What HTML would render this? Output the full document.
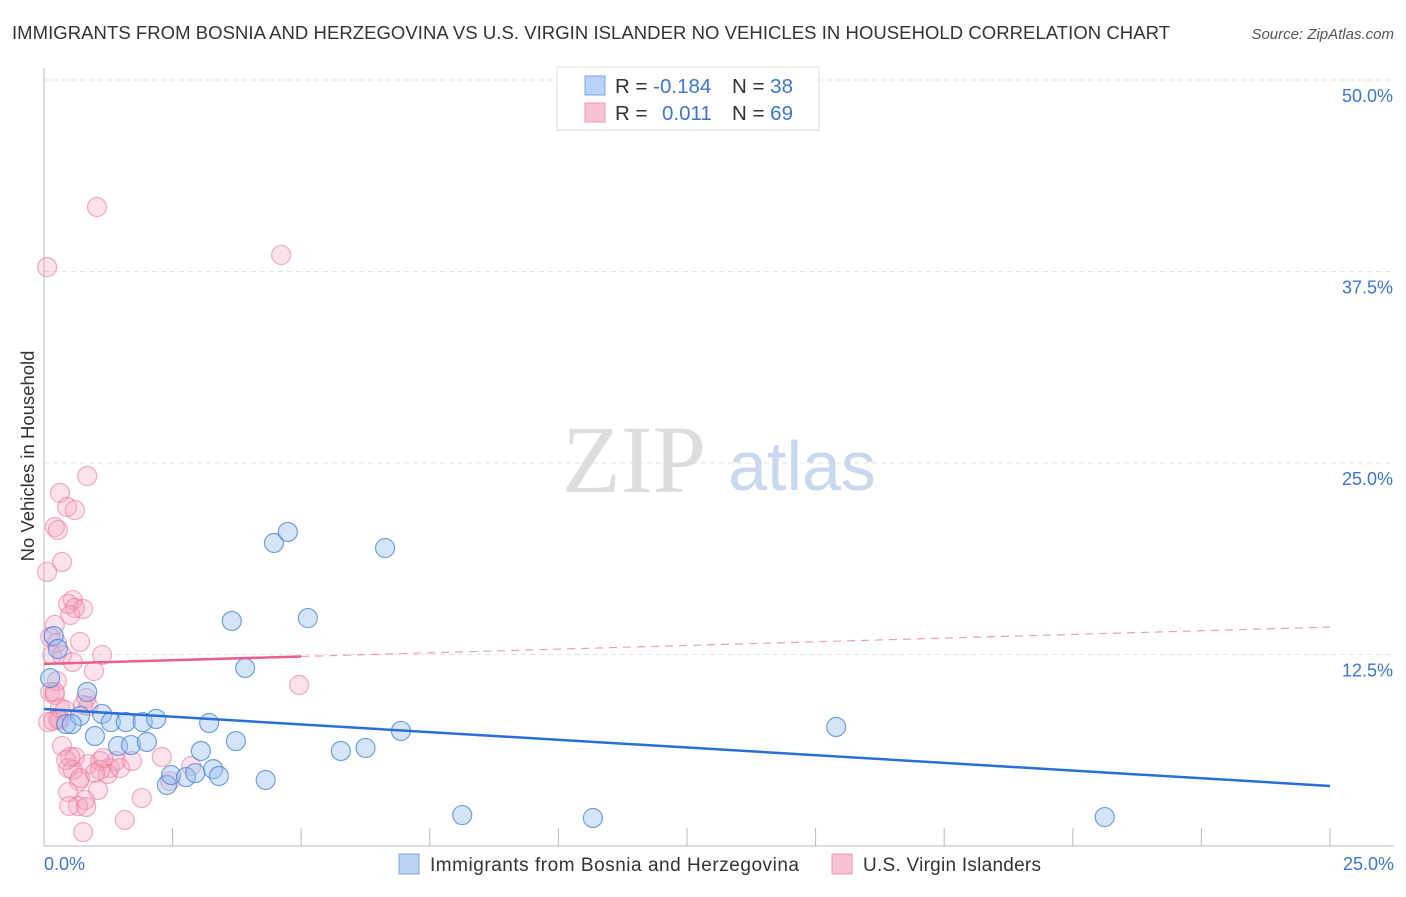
<!DOCTYPE html>
<html><head><meta charset="utf-8"><style>
body{margin:0;background:#fff;font-family:"Liberation Sans",sans-serif;}
svg text{font-family:"Liberation Sans",sans-serif;}
</style></head><body>
<svg id="chart" width="1406" height="892">
<text x="12" y="39" font-size="18.5" fill="#333" textLength="1158">IMMIGRANTS FROM BOSNIA AND HERZEGOVINA VS U.S. VIRGIN ISLANDER NO VEHICLES IN HOUSEHOLD CORRELATION CHART</text>
<text x="1394" y="39" font-size="15" fill="#555" text-anchor="end" font-style="italic">Source: ZipAtlas.com</text>
<g id="grid"></g>
<text x="634" y="492" font-size="96" fill="#ddd" font-family="Liberation Serif" text-anchor="middle" style="font-family:'Liberation Serif',serif">ZIP</text>
<text x="802" y="490" font-size="70" fill="#c8d8ee" text-anchor="middle">atlas</text>
<text transform="translate(34,456) rotate(-90)" font-size="18.5" fill="#333" text-anchor="middle">No Vehicles in Household</text>
<g id="marks"></g>
<g>
<rect x="557" y="67" width="262" height="63" fill="#fff" stroke="#ddd"/>
<rect x="585" y="76" width="20" height="19" fill="#b9d2f5" stroke="#7aa6e6"/>
<rect x="585" y="103" width="20" height="19" fill="#f9c2d2" stroke="#ee95b0"/>
<text x="615" y="93" font-size="20.5" fill="#333">R = <tspan fill="#3b76d6">-0.184</tspan></text>
<text x="732" y="93" font-size="20.5" fill="#333">N = <tspan fill="#3b76d6">38</tspan></text>
<text x="615" y="120" font-size="20.5" fill="#333">R = <tspan fill="#3b76d6" x="662">0.011</tspan></text>
<text x="732" y="120" font-size="20.5" fill="#333">N = <tspan fill="#3b76d6">69</tspan></text>
</g>
<g>
<rect x="399" y="854" width="20" height="20" fill="#b9d2f5" stroke="#7aa6e6"/>
<text x="430" y="871" font-size="19" fill="#333" textLength="369">Immigrants from Bosnia and Herzegovina</text>
<rect x="832" y="854" width="20" height="20" fill="#f9c2d2" stroke="#ee95b0"/>
<text x="863" y="871" font-size="19" fill="#333" textLength="178">U.S. Virgin Islanders</text>
</g>
</svg>
<script>
const yTicks=[12.5,25,37.5,50];
const yTickLabels=["12.5%","25.0%","37.5%","50.0%"];
const xTickLabels=["0.0%","25.0%"];
const blueX=[4.47,4.74,6.63,3.65,5.13,3.91,0.84,0.43,0.7,1.13,0.54,1.3,1.59,1.92,2.18,3.21,0.99,1.44,1.69,2.0,3.73,3.05,5.77,6.25,6.94,15.4,2.39,2.47,2.76,2.94,3.29,3.4,4.31,8.13,10.67,20.62,0.19,0.27,0.12];
const blueY=[19.78,20.5,19.45,14.69,14.88,11.62,10.05,7.96,8.49,8.62,7.96,8.09,8.09,8.09,8.29,8.03,7.18,6.53,6.59,6.79,6.85,6.2,6.2,6.4,7.51,7.77,3.98,4.63,4.5,4.76,5.02,4.57,4.31,2.02,1.83,1.89,13.71,12.86,10.96];
const pinkX=[0.06,1.03,4.61,0.84,0.31,0.45,0.6,0.21,0.27,0.35,0.06,0.56,0.47,0.6,0.51,0.76,0.21,0.12,0.25,0.7,0.16,0.35,0.97,1.13,0.25,0.12,0.21,0.82,0.86,0.76,0.31,0.27,0.08,0.18,0.35,0.6,0.47,0.68,0.86,1.09,1.28,1.4,1.24,1.48,1.09,0.99,1.71,2.29,2.86,2.45,0.56,0.47,0.8,0.66,1.05,0.49,0.82,1.9,1.57,0.76,4.96,0.56,0.31,0.41,0.21,0.51,0.7,1.15,0.43];
const pinkY=[37.79,41.71,38.58,24.15,23.04,22.13,21.93,20.82,20.63,18.54,17.89,16.06,15.8,15.54,15.08,15.47,14.43,13.64,13.25,13.32,12.47,12.47,11.42,12.47,10.77,10.05,9.86,9.66,9.14,9.2,9.01,8.29,8.09,8.16,6.53,5.81,5.09,4.24,5.35,5.55,5.09,5.55,4.7,5.09,4.96,4.77,5.55,5.81,5.22,4.24,4.96,3.52,3.0,2.61,3.66,2.61,2.55,3.13,1.7,0.91,10.51,12.01,8.22,8.88,10.05,5.81,4.44,5.74,5.61];
const blueTrend=[8.94,3.92];
const pinkTrend=[11.89,14.29];
const pinkSolidEnd=5.0;
const X0=44,X1=1330,Y0=846,PPX=(X1-X0)/25,PPY=15.32;
const sx=v=>X0+v*PPX, sy=v=>Y0-v*PPY;
const NS="http://www.w3.org/2000/svg";
function mk(t,a,p){const e=document.createElementNS(NS,t);for(const k in a)e.setAttribute(k,a[k]);p.appendChild(e);return e;}
const g=document.getElementById('grid'),m=document.getElementById('marks');
yTicks.forEach((v,i)=>{
 const l=mk('line',{x1:X0,x2:1394,y1:sy(v),y2:sy(v),stroke:'#e2e2e2','stroke-dasharray':'5,4'},g);
 
 
 const t=mk('text',{x:1393,y:sy(v)+22,'font-size':18,fill:'#3b76d6','text-anchor':'end'},g);t.textContent=yTickLabels[i];
 
 
});
const ax=mk('line',{x1:X0,x2:X0,y1:68,y2:Y0,stroke:'#bbb'},g);


const bx=mk('line',{x1:X0,x2:1394,y1:Y0,y2:Y0,stroke:'#bbb'},g);


for(let i=1;i<=10;i++){const x=X0+i*(X1-X0)/10;const t=mk('line',{x1:x,x2:x,y1:Y0-18,y2:Y0,stroke:'#bbb'},g);
 
 }
[[0,44,'start'],[1,1394,'end']].forEach(([i,x,a])=>{const t=mk('text',{x:x,y:870,'font-size':18,fill:'#3b76d6','text-anchor':a},g);t.textContent=xTickLabels[i];
 
 });
pinkX.forEach((x,i)=>{const c=mk('circle',{cx:sx(x),cy:sy(pinkY[i]),r:9.5,fill:'rgba(246,160,188,0.3)',stroke:'rgba(234,120,157,0.6)','stroke-width':1.2},m);
 
 });
blueX.forEach((x,i)=>{const c=mk('circle',{cx:sx(x),cy:sy(blueY[i]),r:9.5,fill:'rgba(150,190,240,0.4)',stroke:'rgba(70,130,220,0.75)','stroke-width':1.2},m);
 
 });
const pt=v=>pinkTrend[0]+(pinkTrend[1]-pinkTrend[0])*v/25;
const l1=mk('line',{x1:sx(0),y1:sy(pinkTrend[0]),x2:sx(pinkSolidEnd),y2:sy(pt(pinkSolidEnd)),stroke:'#e8608c','stroke-width':2.5},m);


const l2=mk('line',{x1:sx(pinkSolidEnd),y1:sy(pt(pinkSolidEnd)),x2:sx(25),y2:sy(pinkTrend[1]),stroke:'#eda0b8','stroke-width':1.2,'stroke-dasharray':'8,6'},m);


const l3=mk('line',{x1:sx(0),y1:sy(blueTrend[0]),x2:sx(25),y2:sy(blueTrend[1]),stroke:'#2a6fd6','stroke-width':2.5},m);


</script>
</body></html>
